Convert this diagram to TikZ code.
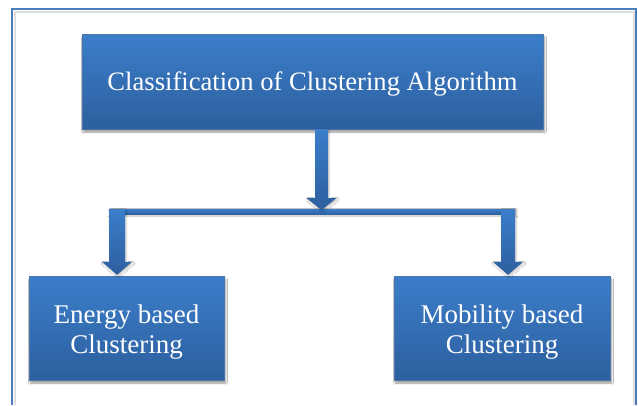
\documentclass[tikz,border=0pt]{standalone}
\usepackage{fontspec}
\setmainfont{Liberation Serif}
\usetikzlibrary{calc,shadows.blur}
\definecolor{btop}{RGB}{59,126,202}
\definecolor{bbot}{RGB}{45,95,158}
\definecolor{framec}{RGB}{74,126,187}
\tikzset{
  box/.style={rectangle, top color=btop, bottom color=bbot, draw=bbot!85!white, line width=0.4pt,
    inner sep=0pt,
    blur shadow={shadow xshift=1.5pt, shadow yshift=-3pt, shadow blur steps=6, shadow opacity=40}},
  boxtext/.style={text=white, align=center, font=\fontsize{27}{30.5}\selectfont, inner sep=0pt},
  arrowfill/.style={top color=btop, bottom color=bbot, draw=none,
    blur shadow={shadow xshift=1pt, shadow yshift=-1.5pt, shadow blur steps=4, shadow opacity=25}},
  framestyle/.style={draw=framec, line width=1.5pt},
}
\newcommand\blockarrow[5]{%
  \path[arrowfill] ($(#1)+(-#3,0)$) -- ($(#1)+(#3,0)$) -- ($(#2)+(#3,-#5)$) -- ($(#2)+(#4,-#5)$)
    -- (#2) -- ($(#2)+(-#4,-#5)$) -- ($(#2)+(-#3,-#5)$) -- cycle;}
\begin{document}
\begin{tikzpicture}[x=1pt,y=-1pt]
\useasboundingbox (0,0) rectangle (638,405);
\fill[white] (0,0) rectangle (638,405);
% frame
\draw[gray!25, line width=2pt] (14.5,405) -- (14.5,11.5) -- (633.5,11.5) -- (633.5,405);
\draw[framestyle] (12,405) -- (12,9) -- (636,9) -- (636,405);
% boxes
\node[box, minimum width=461pt, minimum height=95pt,
  label={[boxtext, font=\fontsize{26.6}{30.5}\selectfont, yshift=-2.5pt]center:Classification of Clustering Algorithm}] (top) at (312.5,81.5) {};
\node[box, minimum width=195pt, minimum height=104pt,
  label={[boxtext, yshift=-4pt]center:{Energy based\\Clustering}}] (left) at (126.5,328) {};
\node[box, minimum width=216pt, minimum height=104pt,
  label={[boxtext, yshift=-4pt]center:{Mobility based\\Clustering}}] (right) at (502,328) {};
% junction coordinates
\coordinate (j) at (321.5,210);
\coordinate (cs) at (top.south -| j);
\coordinate (jl) at (117,209);
\coordinate (jr) at (508,209);
\coordinate (tl) at ($(left.north -| jl)+(0,-1)$);
\coordinate (tr) at ($(right.north -| jr)+(0,-1)$);
% connectors
\path[arrowfill] ($(jl)+(-8,0)$) rectangle ($(jr)+(7,5.5)$);
\blockarrow{jl}{tl}{8}{15}{13}
\blockarrow{jr}{tr}{7}{15}{13}
\blockarrow{cs}{j}{6.5}{15}{12}
\end{tikzpicture}
\end{document}
